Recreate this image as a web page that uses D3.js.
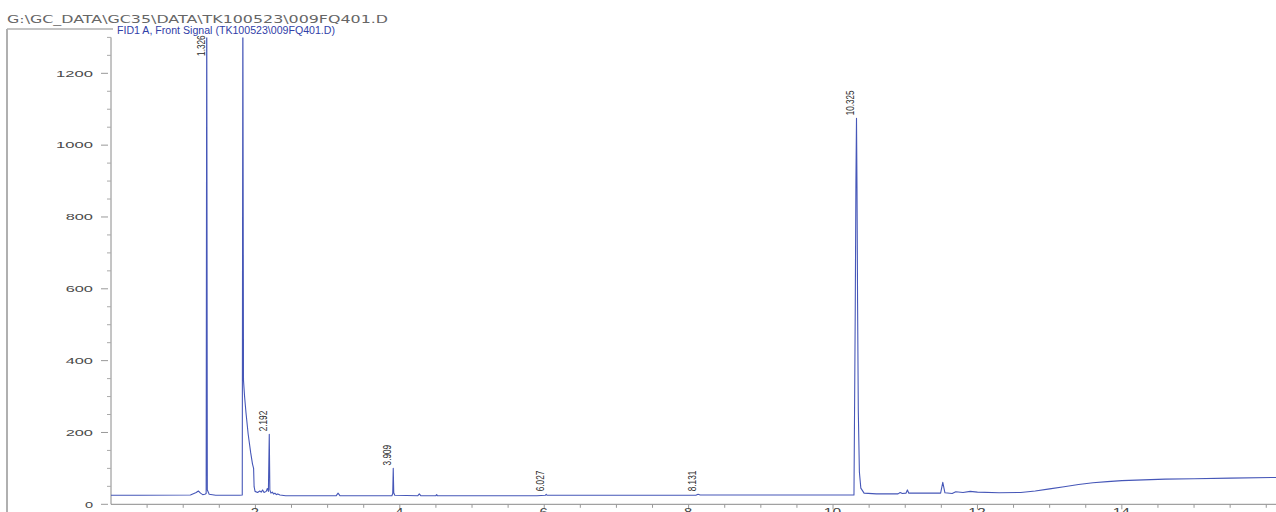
<!DOCTYPE html>
<html>
<head>
<meta charset="utf-8">
<script src="https://cdn.jsdelivr.net/npm/d3@7"></script>
<style>
  html, body { margin: 0; padding: 0; background: #fff; }
  svg { display: block; }
</style>
</head>
<body>
<svg id="chart" width="1276" height="512"></svg>
<script>
// ---------------- DATA ----------------
const headerText = "G:\\GC_DATA\\GC35\\DATA\\TK100523\\009FQ401.D";
const signalTitle = "FID1 A, Front Signal (TK100523\\009FQ401.D)";

// retention time (min)
const times = [
  0.00, 0.40, 1.10, 1.18, 1.21, 1.24, 1.27, 1.30, 1.318, 1.326, 1.334, 1.36, 1.45,
  1.78, 1.818, 1.826, 1.835, 1.85, 1.87, 1.90, 1.935, 1.96, 1.975, 1.982, 1.995,
  2.03, 2.06, 2.08, 2.10, 2.12, 2.15, 2.165, 2.18, 2.192, 2.20, 2.215, 2.235, 2.25,
  2.27, 2.29, 2.31, 2.34, 2.42, 3.00, 3.12, 3.145, 3.17, 3.89, 3.902, 3.909, 3.916,
  3.93, 4.25, 4.27, 4.29, 4.50, 4.51, 4.52, 5.90, 6.015, 6.027, 6.04, 8.10, 8.131,
  8.16, 10.29, 10.308, 10.317, 10.325, 10.332, 10.34, 10.35, 10.365, 10.385, 10.43,
  10.60, 10.90, 10.93, 10.96, 11.01, 11.03, 11.05, 11.49, 11.52, 11.55, 11.65, 11.70,
  11.80, 11.90, 12.00, 12.30, 12.60, 12.80, 13.00, 13.20, 13.40, 13.60, 13.80, 14.00,
  14.30, 14.60, 15.00, 15.50, 16.20
];
// detector signal (pA)
const signal = [
  25, 25, 26, 33, 37, 31, 27, 28, 30, 1450, 40, 28, 25,
  25, 26, 1450, 345, 300, 254, 195, 143, 112, 100, 49, 36,
  33, 37, 34, 40, 33, 36, 44, 36, 195, 40, 31, 34, 29,
  31, 27, 29, 26, 24, 24, 24, 31, 24, 24, 30, 100, 32,
  25, 24, 29, 24, 24, 27, 24, 24, 25, 28, 25, 25, 28,
  26, 26, 550, 900, 1075, 880, 560, 260, 90, 45, 31,
  29, 29, 33, 30, 31, 40, 31, 31, 61, 32, 30, 35,
  33, 36, 34, 32, 33, 37, 43, 49, 55, 60, 63, 66,
  68, 70, 71, 73, 75
];

const peakLabels = ["1.326", "2.192", "3.909", "6.027", "8.131", "10.325"];

const yMajorTicks = [0, 200, 400, 600, 800, 1000, 1200];
const yMajorLabels = ["0", "200", "400", "600", "800", "1000", "1200"];
const xMajorTicks = [2, 4, 6, 8, 10, 12, 14];
const xMajorLabels = ["2", "4", "6", "8", "10", "12", "14"];

// ---------------- LAYOUT ----------------
const svg = d3.select("#chart");
const plotLeft = 111, plotRight = 1276, plotTop = 37.4, plotBottom = 504.3;
const x = d3.scaleLinear().domain([0, 16.135]).range([plotLeft, plotRight]);
const y = d3.scaleLinear().domain([0, 1300]).range([plotBottom, plotTop]);

const axisColor = "#8a8a8a";
const lineBlue = "#4657b8";

// frame
svg.append("line").attr("x1", 7).attr("x2", 7).attr("y1", 29).attr("y2", 512)
  .attr("stroke", "#b0b0b0").attr("stroke-width", 2);
svg.append("line").attr("x1", 7).attr("x2", 113).attr("y1", 29).attr("y2", 29)
  .attr("stroke", "#b0b0b0").attr("stroke-width", 1.5);

// header
svg.append("text").attr("x", 7).attr("y", 23)
  .attr("font-family", "DejaVu Sans, Verdana, sans-serif").attr("font-size", 10.5)
  .attr("fill", "#666").attr("textLength", 381).attr("lengthAdjust", "spacingAndGlyphs")
  .text(headerText);
svg.append("text").attr("x", 117).attr("y", 33.5)
  .attr("font-family", "Liberation Sans, Arial, sans-serif").attr("font-size", 10)
  .attr("fill", "#3040a8").attr("textLength", 218).attr("lengthAdjust", "spacingAndGlyphs")
  .text(signalTitle);

// y axis
const yAxisG = svg.append("g");
yAxisG.append("line").attr("x1", plotLeft).attr("x2", plotLeft)
  .attr("y1", plotTop).attr("y2", plotBottom).attr("stroke", axisColor).attr("stroke-width", 1);
const yMinor = d3.range(0, 1301, 50).filter(v => !yMajorTicks.includes(v));
yAxisG.selectAll("line.ymin").data(yMinor).join("line").attr("class", "ymin")
  .attr("x1", plotLeft - 4).attr("x2", plotLeft)
  .attr("y1", d => y(d)).attr("y2", d => y(d)).attr("stroke", "#aaa");
yAxisG.selectAll("line.ymaj").data(yMajorTicks).join("line").attr("class", "ymaj")
  .attr("x1", plotLeft - 10).attr("x2", plotLeft - 3)
  .attr("y1", d => y(d)).attr("y2", d => y(d)).attr("stroke", "#999");
yAxisG.selectAll("text").data(yMajorTicks).join("text")
  .attr("x", (d, i) => 94.5 - yMajorLabels[i].length * 9.6)
  .attr("y", d => y(d) + 3.2)
  .attr("font-family", "Liberation Sans, Arial, sans-serif").attr("font-size", 8.6)
  .attr("fill", "#4a4a4a")
  .attr("textLength", (d, i) => yMajorLabels[i].length * 9.6 - 1.5)
  .attr("lengthAdjust", "spacingAndGlyphs")
  .text((d, i) => yMajorLabels[i]);

// x axis
const xAxisG = svg.append("g");
xAxisG.append("line").attr("x1", plotLeft).attr("x2", plotRight)
  .attr("y1", plotBottom).attr("y2", plotBottom).attr("stroke", axisColor);
const xMinor = d3.range(0.5, 16.1, 0.5).filter(v => !xMajorTicks.includes(v));
xAxisG.selectAll("line.xmin").data(xMinor).join("line").attr("class", "xmin")
  .attr("x1", d => x(d)).attr("x2", d => x(d))
  .attr("y1", plotBottom).attr("y2", plotBottom + 3.5).attr("stroke", "#999");
xAxisG.selectAll("line.xmaj").data(xMajorTicks).join("line").attr("class", "xmaj")
  .attr("x1", d => x(d)).attr("x2", d => x(d))
  .attr("y1", plotBottom).attr("y2", plotBottom + 5).attr("stroke", "#999");
xAxisG.selectAll("text").data(xMajorTicks).join("text")
  .attr("x", (d, i) => x(d) - xMajorLabels[i].length * 4.6)
  .attr("y", 516)
  .attr("font-family", "Liberation Sans, Arial, sans-serif").attr("font-size", 11)
  .attr("fill", "#444")
  .attr("textLength", (d, i) => xMajorLabels[i].length * 9.2 - 1)
  .attr("lengthAdjust", "spacingAndGlyphs")
  .text((d, i) => xMajorLabels[i]);

// clip
svg.append("clipPath").attr("id", "plotClip").append("rect")
  .attr("x", plotLeft).attr("y", plotTop).attr("width", plotRight - plotLeft)
  .attr("height", plotBottom - plotTop);

const pts = times.map((t, i) => [t, signal[i]]);
const line = d3.line().x(d => x(d[0])).y(d => y(d[1]));
svg.append("path").datum(pts).attr("clip-path", "url(#plotClip)")
  .attr("d", line).attr("fill", "none").attr("stroke", lineBlue)
  .attr("stroke-width", 1.1).attr("stroke-linejoin", "round");

// peak labels
const yMax = y.domain()[1];
peakLabels.forEach(lbl => {
  const t = +lbl;
  let h = 0;
  times.forEach((tt, i) => { if (Math.abs(tt - t) < 0.012) h = Math.max(h, signal[i]); });
  const px = x(t) - 2;
  const off = h > yMax;
  const py = off ? y(yMax) - 2 : y(h) - 3;
  svg.append("text")
    .attr("transform", `translate(${px},${py}) rotate(-90)`)
    .attr("text-anchor", off ? "end" : "start")
    .attr("font-family", "Liberation Sans Narrow, Liberation Sans, Arial, sans-serif")
    .attr("font-size", 11.5).attr("fill", "#2a2a2a")
    .attr("textLength", lbl.length * 4.1).attr("lengthAdjust", "spacingAndGlyphs")
    .text(lbl);
});
</script>
</body>
</html>
